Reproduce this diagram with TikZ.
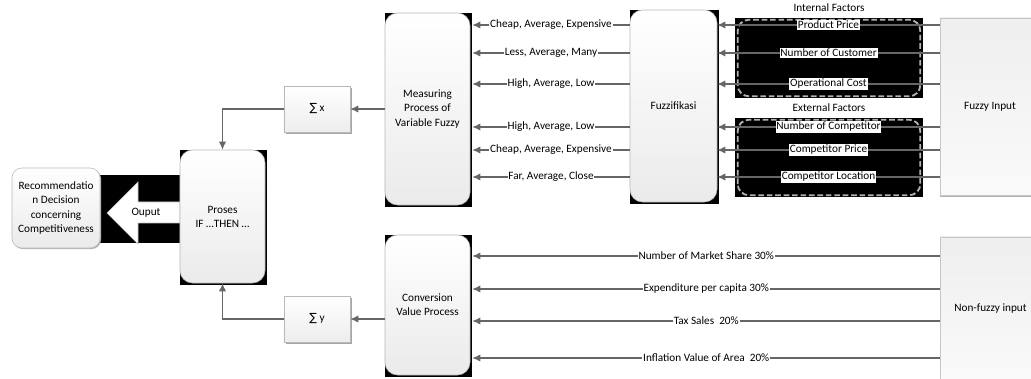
\documentclass[tikz,border=0pt]{standalone}
\usepackage{fontspec}
\setmainfont{Carlito}
\newfontfamily\symfont{DejaVu Sans}
\usetikzlibrary{arrows.meta,positioning,calc,backgrounds,shadows}

\begin{document}
\begin{tikzpicture}[
    x=0.025cm, y=-0.025cm,
    font=\fontsize{8}{10}\selectfont,
    process/.style={draw=gray!55, rounded corners=9pt, align=center, top color=white, bottom color=gray!16, minimum width=2.125cm},
    sumbox/.style={draw=gray!55, align=center, top color=white, bottom color=gray!14, minimum width=1.65cm, minimum height=1.15cm, drop shadow={shadow xshift=1.2pt, shadow yshift=-1.2pt, fill=gray!70, opacity=1}},
    inbox/.style={draw=gray!45, align=center, top color=gray!13, bottom color=gray!4, minimum width=2.5cm, drop shadow={shadow xshift=0pt, shadow yshift=-1.2pt, fill=gray!60, opacity=1}},
    group/.style={fill=black, minimum width=4.7cm, minimum height=2cm},
    grpdash/.style={draw=gray!60, dash pattern=on 4pt off 2pt, line width=1.3pt, rounded corners=8pt},
    arrow/.style={-{Latex[length=2mm, width=1.8mm]}, draw=black!60, line width=0.8pt},
    lbl/.style={fill=white, inner sep=0.6pt, text=black}
  ]
    \useasboundingbox (0,0) rectangle (1031,379);

    % output arrow
    \fill[black] (100,175) rectangle (180,243);
    \draw[draw=gray!50, fill=white] (107,213) -- (138,182) -- (138,202) -- (180,202)
      -- (180,223) -- (138,223) -- (138,244) -- cycle;
    \node (outlbl) at (146,213) {Ouput};

    \node[process, minimum width=2.2cm, minimum height=2cm, rounded corners=7pt,
      drop shadow={shadow xshift=0.8pt, shadow yshift=-0.8pt, fill=gray!60, opacity=1}] (rec) at (56,208)
      {Recommendatio\\n Decision\\concerning\\Competitiveness};
    \node[process, minimum height=3.325cm] (proses) at (222.5,216.5) {Proses\\IF \dots THEN \dots};
    \node[sumbox] (sumx) at (317,109) {{\symfont ∑} x};
    \node[sumbox] (sumy) at (317,319) {{\symfont ∑} y};
    \node[process, minimum height=4.8cm] (meas) at (427.5,109) {Measuring\\Process of\\Variable Fuzzy};
    \node[process, minimum height=3.5cm] (conv) at (427.5,305) {Conversion\\Value Process};
    \node[process, minimum width=2.175cm, minimum height=4.8cm] (fuzz) at (673.5,106) {Fuzzifikasi};
    \node[inbox, minimum height=4.425cm] (fin) at (990,106.5) {Fuzzy Input};
    \node[inbox, minimum height=3.575cm] (nfin) at (990.5,308.5) {Non-fuzzy input};

    \node[group] (intgrp) at (829,58) {};
    \node[group, minimum height=1.975cm] (extgrp) at (829,157.5) {};
    \draw[grpdash] ($(intgrp.south west)+(3,-2)$) rectangle ($(intgrp.north east)+(-3,2)$);
    \draw[grpdash] ($(extgrp.south west)+(3,-2)$) rectangle ($(extgrp.north east)+(-3,2)$);
    \node[above=0.5pt of intgrp] (intlbl) {Internal Factors};
    \node[above=0.5pt of extgrp] (extlbl) {External Factors};

    \begin{scope}[on background layer]
      \foreach \n in {proses, meas, conv, fuzz}
        \fill[black] ($(\n.south west)+(0,2)$) rectangle ($(\n.north east)+(2,0)$);
    \end{scope}

    \foreach \yy/\txt in {25/Product Price, 53/Number of Customer, 84/Operational Cost,
        127/Number of Competitor, 150/Competitor Price, 177/Competitor Location}
      \draw[arrow] (fin.west |- 0,\yy) -- (fuzz.east |- 0,\yy) node[lbl, midway] {\txt};

    \foreach \yy/\txt in {25/{Cheap, Average, Expensive}, 53/{Less, Average, Many},
        84/{High, Average, Low}, 127/{High, Average, Low},
        150/{Cheap, Average, Expensive}, 177/{Far, Average, Close}}
      \draw[arrow] (fuzz.west |- 0,\yy) -- ($(meas.east |- 0,\yy)+(2,0)$) node[lbl, midway] {\txt};

    \foreach \yy/\txt in {256/Number of Market Share 30\%, 289/Expenditure per capita 30\%,
        321/Tax Sales\ \ 20\%, 358/Inflation Value of Area\ \ 20\%}
      \draw[arrow] (nfin.west |- 0,\yy) -- ($(conv.east |- 0,\yy)+(2,0)$) node[lbl, midway] {\txt};

    \draw[arrow] (meas.west |- sumx.east) -- (sumx.east);
    \draw[arrow] (conv.west |- sumy.east) -- (sumy.east);
    \draw[arrow] (sumx.west) -| (proses.north);
    \draw[arrow] (sumy.west) -| (proses.south);
  \end{tikzpicture}
\end{document}
